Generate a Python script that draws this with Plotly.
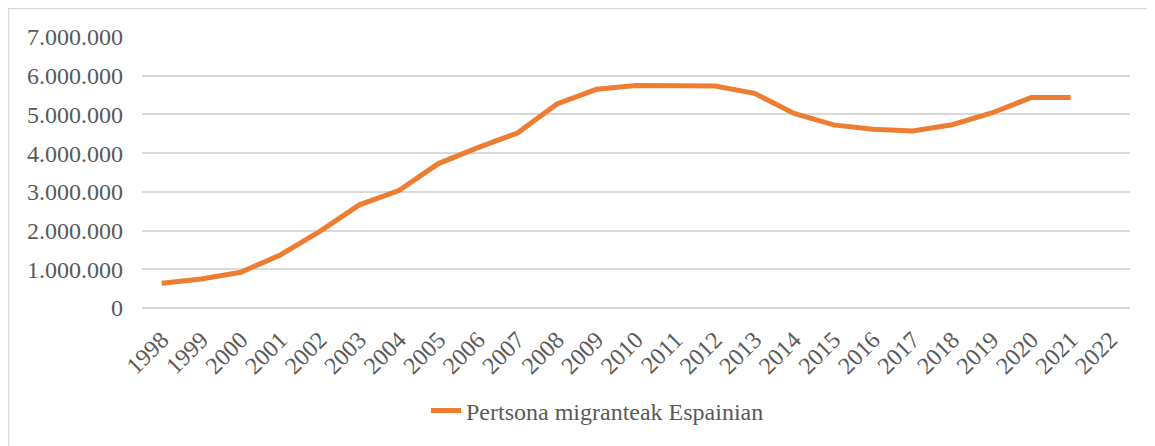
import plotly.graph_objects as go

years = [str(y) for y in range(1998, 2023)]
values = [637085, 748954, 923879, 1370657, 1977946, 2664168, 3034326, 3730610,
          4144166, 4519554, 5268762, 5648671, 5747734, 5751487, 5736258, 5546238,
          5023487, 4729644, 4618581, 4572807, 4734691, 5036878, 5434153, 5440148, None]
series_name = "Pertsona migranteak Espainian"

OFF = 8  # page body margin
W, H = 1155 - OFF, 446 - OFF
L, T = 142 - OFF, 37 - OFF
R, B = 1155 - 1130, 446 - 308
pw, ph = W - L - R, H - T - B


def px_x(px):
    return (px - OFF - L) / pw


def px_y(py):
    return (T + ph - (py - OFF)) / ph


fig = go.Figure()
fig.add_trace(go.Scatter(x=years, y=values, mode="lines", name=series_name,
                         line=dict(color="#ED7D31", width=5), connectgaps=False))

font = "Liberation Serif"
fig.update_layout(
    width=W, height=H,
    margin=dict(l=L, r=R, t=T, b=B, autoexpand=False),
    paper_bgcolor="white", plot_bgcolor="white",
    separators=",.",
    font=dict(family=font, color="#595959", size=22),
    showlegend=True,
    legend=dict(orientation="h", x=px_x(426), xanchor="left",
                y=px_y(411), yanchor="middle", itemwidth=30,
                font=dict(family=font, size=24, color="#595959"),
                bgcolor="rgba(0,0,0,0)"),
    xaxis=dict(type="category", categoryorder="array", categoryarray=years,
               range=[-0.5, 24.5], tickangle=-45, showgrid=False,
               showline=False, ticks="", tickfont=dict(family=font, size=24),
               ticklabelstandoff=12),
    yaxis=dict(range=[0, 7000000], dtick=1000000, tickformat=",d",
               showgrid=True, gridcolor="#D9D9D9", gridwidth=1.5,
               zeroline=True, zerolinecolor="#D9D9D9", zerolinewidth=1.5,
               showline=False, ticks="", tickfont=dict(family=font, size=24),
               ticklabelstandoff=18),
    shapes=[dict(type="rect", xref="paper", yref="paper",
                 x0=px_x(8.5), x1=px_x(1175),
                 y0=px_y(470), y1=px_y(8.5),
                 line=dict(color="#D9D9D9", width=1.5), fillcolor="rgba(0,0,0,0)",
                 layer="below")],
)

fig.write_html("out.html")
